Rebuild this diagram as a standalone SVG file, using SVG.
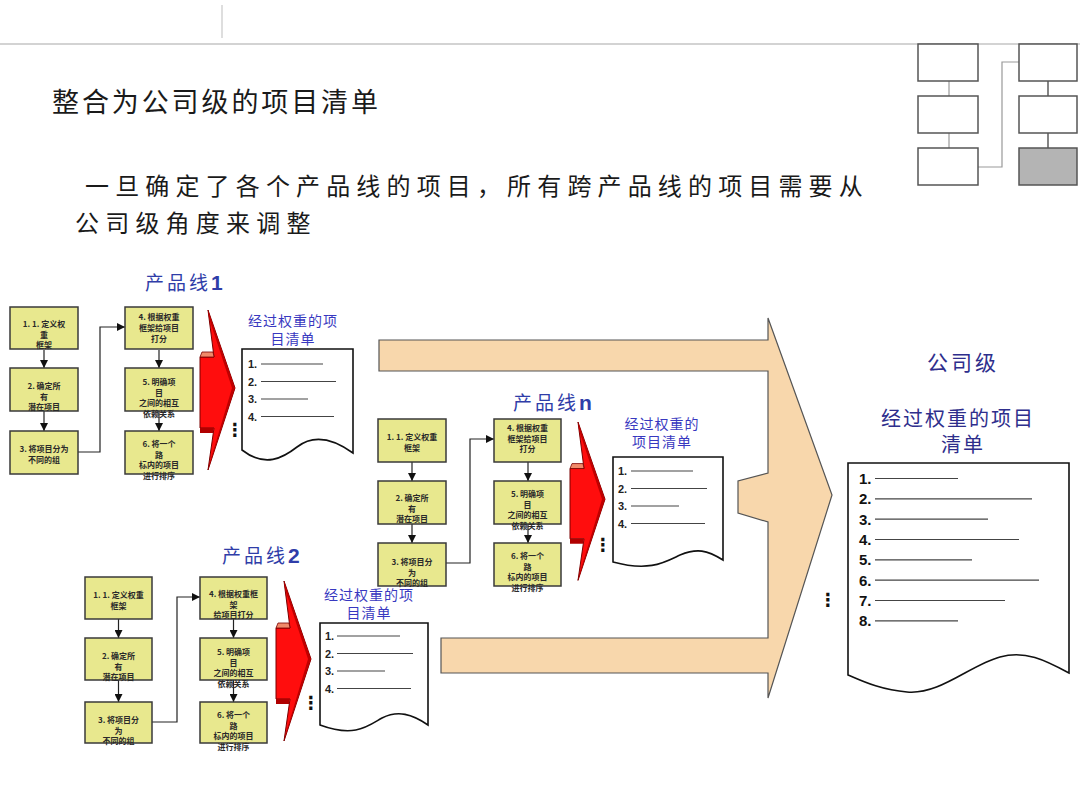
<svg xmlns="http://www.w3.org/2000/svg" xmlns:xlink="http://www.w3.org/1999/xlink" width="1080" height="810" viewBox="0 0 1080 810">
<style>
.box{fill:#E8E88E;stroke:#3a3a3a;stroke-width:1.5}
.bt{font-family:"Noto Sans CJK SC","Liberation Sans",sans-serif;font-size:8px;font-weight:bold;fill:#2a2a2a;text-anchor:middle}
.conn{fill:none;stroke:#222;stroke-width:1.2}
.doc{fill:#fff;stroke:#111;stroke-width:1.6}
.num{font-family:"Liberation Sans",Arial,sans-serif;font-weight:bold;font-size:11px;fill:#222}
.numL{font-family:"Liberation Sans",Arial,sans-serif;font-weight:bold;font-size:15px;fill:#111}
.ln{stroke:#444;stroke-width:1.2}
.lbl{font-family:"Noto Sans CJK SC",sans-serif;font-size:19px;fill:#2F3DA8;letter-spacing:3px}
.lblN{font-family:"Liberation Sans",Arial,sans-serif;font-weight:bold;font-size:21px;fill:#2F3DA8}
.dt{font-family:"Noto Sans CJK SC",sans-serif;font-size:14px;fill:#3838C0;text-anchor:middle;letter-spacing:1px}
.co{font-family:"Noto Sans CJK SC",sans-serif;fill:#2E2E8C;text-anchor:middle}
.dots{font-family:"DejaVu Sans",sans-serif;font-weight:bold;font-size:18px;fill:#111;text-anchor:middle}
.ic{fill:#fff;stroke:#555;stroke-width:1.5}
</style>
<defs>
<marker id="ah" viewBox="0 0 10 10" refX="10" refY="5" markerUnits="userSpaceOnUse" markerWidth="9" markerHeight="8" orient="auto">
<path d="M0,0 L10,5 L0,10 z" fill="#111"/>
</marker>
<g id="redArrow">
<path d="M0,0 L27,78 L0,160 L6,118 L-8,118 L-8,47 L6,47 Z" fill="#FF0D0D" stroke="#7a0000" stroke-width="1"/>
<path d="M0,0 L27,78 L0,160 L2,152 L24,78 L1,8 Z" fill="#C00000"/>
<path d="M-8,47 L-6,42 L5,42 L6,47 Z" fill="#F08A6A" stroke="#7a0000" stroke-width="0.8"/>
<path d="M-8,118 L6,118 L5,123 L-8,123 Z" fill="#B00000"/>
</g>
</defs>

<g id="header">
<line x1="0" y1="44" x2="1080" y2="44" stroke="#c4c4c4" stroke-width="1.5"/>
<line x1="222" y1="5" x2="222" y2="38" stroke="#c8c8c8" stroke-width="1.2"/>
</g>

<g id="icon">
<line x1="949" y1="81" x2="949" y2="96" stroke="#999" stroke-width="1.2"/>
<line x1="949" y1="133" x2="949" y2="148" stroke="#999" stroke-width="1.2"/>
<line x1="1048" y1="81" x2="1048" y2="96" stroke="#333" stroke-width="1.2"/>
<line x1="1048" y1="133" x2="1048" y2="148" stroke="#333" stroke-width="1.2"/>
<polyline points="978,167 1002,167 1002,62 1019,62" fill="none" stroke="#999" stroke-width="1.2"/>
<rect class="ic" x="918" y="44" width="60" height="37"/>
<rect class="ic" x="918" y="96" width="60" height="37"/>
<rect class="ic" x="918" y="148" width="60" height="37"/>
<rect class="ic" x="1019" y="44" width="58" height="37"/>
<rect class="ic" x="1019" y="96" width="58" height="37"/>
<rect x="1019" y="148" width="58" height="37" fill="#B4B4B4" stroke="#555" stroke-width="1.5"/>
</g>

<g id="title">
<text x="52" y="112" font-family="'Noto Sans CJK SC',sans-serif" font-size="27px" fill="#1a1a1a" letter-spacing="2.9">整合为公司级的项目清单</text>
<text x="85" y="195" font-family="'Noto Sans CJK SC',sans-serif" font-size="24px" fill="#1a1a1a" letter-spacing="6.15">一旦确定了各个产品线的项目，所有跨产品线的项目需要从</text>
<text x="75" y="232" font-family="'Noto Sans CJK SC',sans-serif" font-size="24px" fill="#1a1a1a" letter-spacing="6.2">公司级角度来调整</text>
</g>

<g id="big-arrow">
<path d="M379,340 L768,340 L768,318 L832,495 L768,698 L768,673 L441,673 L441,638 L768,638 L768,522 L738,513 L738,481 L768,473 L768,371 L379,371 Z" fill="#F8D7AC" stroke="#555" stroke-width="1.2"/>
</g>

<g id="connectors">
<line class="conn" x1="44" y1="350" x2="44" y2="368" marker-end="url(#ah)"/>
<line class="conn" x1="44" y1="411" x2="44" y2="431" marker-end="url(#ah)"/>
<polyline class="conn" points="78,452 100,452 100,327 125,327" marker-end="url(#ah)"/>
<line class="conn" x1="159" y1="350" x2="159" y2="368" marker-end="url(#ah)"/>
<line class="conn" x1="159" y1="411" x2="159" y2="431" marker-end="url(#ah)"/>
<line class="conn" x1="118.5" y1="619" x2="118.5" y2="638" marker-end="url(#ah)"/>
<line class="conn" x1="118.5" y1="680" x2="118.5" y2="702" marker-end="url(#ah)"/>
<polyline class="conn" points="152,722 177,722 177,597 200,597" marker-end="url(#ah)"/>
<line class="conn" x1="233.5" y1="619" x2="233.5" y2="638" marker-end="url(#ah)"/>
<line class="conn" x1="233.5" y1="680" x2="233.5" y2="702" marker-end="url(#ah)"/>
<line class="conn" x1="412" y1="462" x2="412" y2="481" marker-end="url(#ah)"/>
<line class="conn" x1="412" y1="524" x2="412" y2="543" marker-end="url(#ah)"/>
<polyline class="conn" points="446,563 470,563 470,439 494,439" marker-end="url(#ah)"/>
<line class="conn" x1="528" y1="462" x2="528" y2="481" marker-end="url(#ah)"/>
<line class="conn" x1="528" y1="524" x2="528" y2="543" marker-end="url(#ah)"/>
</g>

<!-- Product line 1 -->
<g id="pl1-label"><text class="lbl" x="145" y="290">产品线<tspan class="lblN">1</tspan></text></g>
<g id="pl1-step1"><rect class="box" x="10" y="307" width="68" height="42"/>
<text class="bt" x="44" y="327">1. 1. 定义权</text><text class="bt" x="44" y="337.5">重</text><text class="bt" x="44" y="348">框架</text></g>
<g id="pl1-step2"><rect class="box" x="10" y="368" width="68" height="43"/>
<text class="bt" x="44" y="389">2. 确定所</text><text class="bt" x="44" y="399.5">有</text><text class="bt" x="44" y="410">潜在项目</text></g>
<g id="pl1-step3"><rect class="box" x="10" y="431" width="68" height="43"/>
<text class="bt" x="44" y="452">3. 将项目分为</text><text class="bt" x="44" y="463">不同的组</text></g>
<g id="pl1-step4"><rect class="box" x="125" y="307" width="68" height="42"/>
<text class="bt" x="159" y="320">4. 根据权重</text><text class="bt" x="159" y="331">框架给项目</text><text class="bt" x="159" y="342">打分</text></g>
<g id="pl1-step5"><rect class="box" x="125" y="368" width="68" height="43"/>
<text class="bt" x="159" y="385">5. 明确项</text><text class="bt" x="159" y="395.5">目</text><text class="bt" x="159" y="406">之间的相互</text><text class="bt" x="159" y="416.5">依赖关系</text></g>
<g id="pl1-step6"><rect class="box" x="125" y="431" width="68" height="43"/>
<text class="bt" x="159" y="447">6. 将一个</text><text class="bt" x="159" y="457.5">路</text><text class="bt" x="159" y="468">标内的项目</text><text class="bt" x="159" y="478.5">进行排序</text></g>
<g id="pl1-arrow"><use xlink:href="#redArrow" href="#redArrow" transform="translate(208,310)"/></g>
<g id="pl1-list">
<text class="dt" x="293" y="326">经过权重的项</text><text class="dt" x="293" y="344">目清单</text>
<path class="doc" d="M242,349 H353 V453 C335,440 315,433 297,447 C283,458 265,468 242,450 Z"/>
<text class="num" x="248" y="368">1.</text><line class="ln" x1="261" y1="364" x2="323" y2="364"/>
<text class="num" x="248" y="385.5">2.</text><line class="ln" x1="261" y1="381.5" x2="336" y2="381.5"/>
<text class="num" x="248" y="403">3.</text><line class="ln" x1="261" y1="399" x2="308" y2="399"/>
<text class="num" x="248" y="420.5">4.</text><line class="ln" x1="261" y1="416.5" x2="334" y2="416.5"/>
<text class="dots" x="235" y="436">⋮</text>
</g>

<!-- Product line 2 -->
<g id="pl2-label"><text class="lbl" x="222" y="563">产品线<tspan class="lblN">2</tspan></text></g>
<g id="pl2-step1"><rect class="box" x="85" y="577" width="67" height="42"/>
<text class="bt" x="118.5" y="598">1.  1. 定义权重</text><text class="bt" x="118.5" y="609">框架</text></g>
<g id="pl2-step2"><rect class="box" x="85" y="638" width="67" height="42"/>
<text class="bt" x="118.5" y="659">2. 确定所</text><text class="bt" x="118.5" y="669.5">有</text><text class="bt" x="118.5" y="680">潜在项目</text></g>
<g id="pl2-step3"><rect class="box" x="85" y="702" width="67" height="41"/>
<text class="bt" x="118.5" y="723">3.  将项目分</text><text class="bt" x="118.5" y="733.5">为</text><text class="bt" x="118.5" y="744">不同的组</text></g>
<g id="pl2-step4"><rect class="box" x="200" y="577" width="67" height="42"/>
<text class="bt" x="233.5" y="597">4. 根据权重框</text><text class="bt" x="233.5" y="607.5">架</text><text class="bt" x="233.5" y="618">给项目打分</text></g>
<g id="pl2-step5"><rect class="box" x="200" y="638" width="67" height="42"/>
<text class="bt" x="233.5" y="655">5.  明确项</text><text class="bt" x="233.5" y="665.5">目</text><text class="bt" x="233.5" y="676">之间的相互</text><text class="bt" x="233.5" y="686.5">依赖关系</text></g>
<g id="pl2-step6"><rect class="box" x="200" y="702" width="67" height="41"/>
<text class="bt" x="233.5" y="718">6.  将一个</text><text class="bt" x="233.5" y="728.5">路</text><text class="bt" x="233.5" y="739">标内的项目</text><text class="bt" x="233.5" y="749.5">进行排序</text></g>
<g id="pl2-arrow"><use xlink:href="#redArrow" href="#redArrow" transform="translate(284,581)"/></g>
<g id="pl2-list">
<text class="dt" x="369" y="600">经过权重的项</text><text class="dt" x="369" y="618">目清单</text>
<path class="doc" d="M320,623 H428 V725 C412,714 398,710 382,718 C368,726 355,738 320,725 Z"/>
<text class="num" x="325" y="640">1.</text><line class="ln" x1="337" y1="636" x2="400" y2="636"/>
<text class="num" x="325" y="657.5">2.</text><line class="ln" x1="337" y1="653.5" x2="413" y2="653.5"/>
<text class="num" x="325" y="675">3.</text><line class="ln" x1="337" y1="671" x2="385" y2="671"/>
<text class="num" x="325" y="692.5">4.</text><line class="ln" x1="337" y1="688.5" x2="411" y2="688.5"/>
<text class="dots" x="311" y="709">⋮</text>
</g>

<!-- Product line n -->
<g id="pln-label"><text class="lbl" x="513" y="410">产品线<tspan class="lblN">n</tspan></text></g>
<g id="pln-step1"><rect class="box" x="378" y="419" width="68" height="43"/>
<text class="bt" x="412" y="440">1.  1. 定义权重</text><text class="bt" x="412" y="451">框架</text></g>
<g id="pln-step2"><rect class="box" x="378" y="481" width="68" height="43"/>
<text class="bt" x="412" y="501">2. 确定所</text><text class="bt" x="412" y="511.5">有</text><text class="bt" x="412" y="522">潜在项目</text></g>
<g id="pln-step3"><rect class="box" x="378" y="543" width="68" height="43"/>
<text class="bt" x="412" y="565">3.  将项目分</text><text class="bt" x="412" y="575.5">为</text><text class="bt" x="412" y="586">不同的组</text></g>
<g id="pln-step4"><rect class="box" x="494" y="419" width="67" height="43"/>
<text class="bt" x="527.5" y="431">4. 根据权重</text><text class="bt" x="527.5" y="441.5">框架给项目</text><text class="bt" x="527.5" y="452">打分</text></g>
<g id="pln-step5"><rect class="box" x="494" y="481" width="67" height="43"/>
<text class="bt" x="527.5" y="497">5.  明确项</text><text class="bt" x="527.5" y="507.5">目</text><text class="bt" x="527.5" y="518">之间的相互</text><text class="bt" x="527.5" y="528.5">依赖关系</text></g>
<g id="pln-step6"><rect class="box" x="494" y="543" width="67" height="43"/>
<text class="bt" x="527.5" y="559">6.  将一个</text><text class="bt" x="527.5" y="569.5">路</text><text class="bt" x="527.5" y="580">标内的项目</text><text class="bt" x="527.5" y="590.5">进行排序</text></g>
<g id="pln-arrow"><use xlink:href="#redArrow" href="#redArrow" transform="translate(578,422) scale(1,0.99)"/></g>
<g id="pln-list">
<text class="dt" x="662" y="429">经过权重的</text><text class="dt" x="662" y="447">项目清单</text>
<path class="doc" d="M613,457 H723 V560 C707,550 697,548 680,555 C665,562 650,572 613,562 Z"/>
<text class="num" x="618" y="475">1.</text><line class="ln" x1="631" y1="471" x2="693" y2="471"/>
<text class="num" x="618" y="492.5">2.</text><line class="ln" x1="631" y1="488.5" x2="707" y2="488.5"/>
<text class="num" x="618" y="510">3.</text><line class="ln" x1="631" y1="506" x2="679" y2="506"/>
<text class="num" x="618" y="527.5">4.</text><line class="ln" x1="631" y1="523.5" x2="705" y2="523.5"/>
<text class="dots" x="603" y="551">⋮</text>
</g>

<!-- Company level -->
<g id="company-list">
<text class="co" x="963" y="370" font-size="21px" letter-spacing="3">公司级</text>
<text class="co" x="958" y="426" font-size="20px" letter-spacing="2">经过权重的项目</text>
<text class="co" x="963" y="452" font-size="20px" letter-spacing="2">清单</text>
<path class="doc" d="M848,463 H1069 V673 C1045,660 1025,650 1000,657 C970,665 940,695 907,692 C880,690 860,680 848,675 Z"/>
<text class="numL" x="859" y="484">1.</text><line class="ln" x1="875" y1="478.5" x2="958" y2="478.5"/>
<text class="numL" x="859" y="504.3">2.</text><line class="ln" x1="875" y1="498.8" x2="1032" y2="498.8"/>
<text class="numL" x="859" y="524.6">3.</text><line class="ln" x1="875" y1="519.1" x2="988" y2="519.1"/>
<text class="numL" x="859" y="545">4.</text><line class="ln" x1="875" y1="539.5" x2="1019" y2="539.5"/>
<text class="numL" x="859" y="565.3">5.</text><line class="ln" x1="875" y1="559.8" x2="972" y2="559.8"/>
<text class="numL" x="859" y="585.6">6.</text><line class="ln" x1="875" y1="580.1" x2="1039" y2="580.1"/>
<text class="numL" x="859" y="606">7.</text><line class="ln" x1="875" y1="600.5" x2="1005" y2="600.5"/>
<text class="numL" x="859" y="626.3">8.</text><line class="ln" x1="875" y1="620.8" x2="958" y2="620.8"/>
<text class="dots" x="828" y="606">⋮</text>
</g>
</svg>
